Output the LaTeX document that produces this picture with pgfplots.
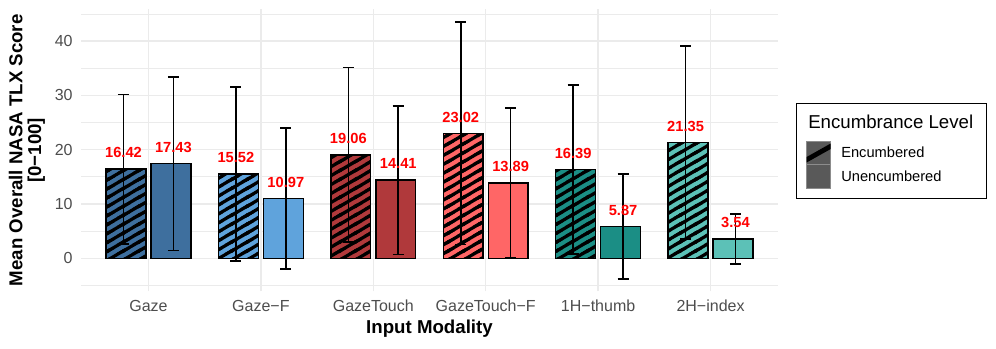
\documentclass[border=0pt]{standalone}
\usepackage{pgfplots}
\pgfplotsset{compat=1.18}
\usepackage{pgfplotstable}
\usepackage{fontspec}
\setmainfont{Liberation Sans}
\usetikzlibrary{patterns}

\definecolor{cGaze}{HTML}{3E6F9E}
\definecolor{cGazeF}{HTML}{5FA3DC}
\definecolor{cGT}{HTML}{B0393B}
\definecolor{cGTF}{HTML}{FF6666}
\definecolor{cHa}{HTML}{1B8E85}
\definecolor{cHb}{HTML}{5CC1B7}
\definecolor{gridc}{HTML}{EBEBEB}
\definecolor{tickc}{HTML}{4D4D4D}
\definecolor{keyc}{HTML}{595959}

% 30-degree stripes, vertical period 6.7pt
\pgfdeclarepatternformonly{hatchthirty}{\pgfqpoint{-1pt}{-1pt}}{\pgfqpoint{12.6pt}{7.7pt}}{\pgfqpoint{11.6pt}{6.7pt}}{%
  \pgfsetlinewidth{2.4pt}%
  \pgfpathmoveto{\pgfqpoint{-2pt}{-1.155pt}}\pgfpathlineto{\pgfqpoint{13.6pt}{7.855pt}}%
  \pgfpathmoveto{\pgfqpoint{-2pt}{5.545pt}}\pgfpathlineto{\pgfqpoint{13.6pt}{14.555pt}}%
  \pgfpathmoveto{\pgfqpoint{-2pt}{-7.855pt}}\pgfpathlineto{\pgfqpoint{13.6pt}{1.155pt}}%
  \pgfusepath{stroke}%
}

\pgfplotstableread{
x y lab
0.778 16.42 16.42
1.222 17.43 17.43
1.778 15.52 15.52
2.222 10.97 10.97
2.778 19.06 19.06
3.222 14.41 14.41
3.778 23.02 23.02
4.222 13.89 13.89
4.778 16.39 16.39
5.222 5.87 5.87
5.778 21.35 21.35
6.222 3.54 3.54
}\labtab

\tikzset{hatch/.style={postaction={pattern=hatchthirty, pattern color=black}}}
\pgfplotsset{mybar/.style={ybar, bar width=0.355, bar shift=0pt, draw=black, line width=1.1pt}}

\begin{document}
\begin{tikzpicture}
\path[use as bounding box] (-60.75pt,-43.2pt) rectangle (686.25pt,218.55pt);
\begin{axis}[
  at={(0,0)}, anchor=south west,
  scale only axis, width=522.75pt, height=211.7pt,
  xmin=0.4, xmax=6.6, ymin=-6.1, ymax=45.9,
  axis line style={draw=none},
  major tick length=0pt, minor tick length=0pt,
  xtick={1,2,3,4,5,6},
  xticklabels={Gaze,Gaze−F,GazeTouch,GazeTouch−F,1H−thumb,2H−index},
  ytick={0,10,20,30,40},
  minor ytick={-5,5,15,25,35,45},
  xmajorgrids, ymajorgrids, yminorgrids,
  major grid style={gridc, line width=1.1pt},
  minor grid style={gridc, line width=0.55pt},
  tick label style={font=\fontsize{12}{14}\selectfont, text=tickc},
  /pgf/number format/assume math mode=true,
  yticklabel style={xshift=-2.75pt},
  xticklabel style={anchor=north, yshift=-3.2pt},
  xlabel={Input Modality},
  ylabel={Mean Overall NASA TLX Score\\{[}0−100{]}},
  xlabel style={at={(axis description cs:0.5,-0.1308)}, anchor=center, font=\bfseries\fontsize{14}{16}\selectfont},
  ylabel style={at={(axis description cs:-0.0775,0.5)}, anchor=center, align=center, font=\bfseries\fontsize{14}{14}\selectfont},
  clip=false,
  unbounded coords=jump,
]
\addplot[mybar, fill=cGaze, hatch] coordinates {(0.8,16.42)};
\addplot[mybar, fill=cGaze] coordinates {(1.2,17.43)};
\addplot[mybar, fill=cGazeF, hatch] coordinates {(1.8,15.52)};
\addplot[mybar, fill=cGazeF] coordinates {(2.2,10.97)};
\addplot[mybar, fill=cGT, hatch] coordinates {(2.8,19.06)};
\addplot[mybar, fill=cGT] coordinates {(3.2,14.41)};
\addplot[mybar, fill=cGTF, hatch] coordinates {(3.8,23.02)};
\addplot[mybar, fill=cGTF] coordinates {(4.2,13.89)};
\addplot[mybar, fill=cHa, hatch] coordinates {(4.8,16.39)};
\addplot[mybar, fill=cHa] coordinates {(5.2,5.87)};
\addplot[mybar, fill=cHb, hatch] coordinates {(5.8,21.35)};
\addplot[mybar, fill=cHb] coordinates {(6.2,3.54)};

% error bars (mean +- sd): vertical stems
\addplot[black, line width=1.2pt, mark=none] coordinates {
(0.778,2.67) (0.778,30.17) (0.778,nan)
(1.222,1.43) (1.222,33.43) (1.222,nan)
(1.778,-0.53) (1.778,31.57) (1.778,nan)
(2.222,-2.01) (2.222,23.95) (2.222,nan)
(2.778,2.96) (2.778,35.16) (2.778,nan)
(3.222,0.71) (3.222,28.11) (3.222,nan)
(3.778,2.52) (3.778,43.52) (3.778,nan)
(4.222,0.09) (4.222,27.69) (4.222,nan)
(4.778,0.84) (4.778,31.94) (4.778,nan)
(5.222,-3.77) (5.222,15.51) (5.222,nan)
(5.778,3.55) (5.778,39.15) (5.778,nan)
(6.222,-1.06) (6.222,8.14)
};
% caps
\addplot[black, line width=1.2pt, mark=none] coordinates {
(0.729,2.67) (0.827,2.67) (0.8,nan) (0.729,30.17) (0.827,30.17) (0.8,nan)
(1.173,1.43) (1.271,1.43) (1.2,nan) (1.173,33.43) (1.271,33.43) (1.2,nan)
(1.729,-0.53) (1.827,-0.53) (1.8,nan) (1.729,31.57) (1.827,31.57) (1.8,nan)
(2.173,-2.01) (2.271,-2.01) (2.2,nan) (2.173,23.95) (2.271,23.95) (2.2,nan)
(2.729,2.96) (2.827,2.96) (2.8,nan) (2.729,35.16) (2.827,35.16) (2.8,nan)
(3.173,0.71) (3.271,0.71) (3.2,nan) (3.173,28.11) (3.271,28.11) (3.2,nan)
(3.729,2.52) (3.827,2.52) (3.8,nan) (3.729,43.52) (3.827,43.52) (3.8,nan)
(4.173,0.09) (4.271,0.09) (4.2,nan) (4.173,27.69) (4.271,27.69) (4.2,nan)
(4.729,0.84) (4.827,0.84) (4.8,nan) (4.729,31.94) (4.827,31.94) (4.8,nan)
(5.173,-3.77) (5.271,-3.77) (5.2,nan) (5.173,15.51) (5.271,15.51) (5.2,nan)
(5.729,3.55) (5.827,3.55) (5.8,nan) (5.729,39.15) (5.827,39.15) (5.8,nan)
(6.173,-1.06) (6.271,-1.06) (6.2,nan) (6.173,8.14) (6.271,8.14)
};

\addplot[draw=none, mark=none, point meta=explicit symbolic, nodes near coords,
  every node near coord/.append style={anchor=center, yshift=12.2pt, text=red, font=\bfseries\fontsize{11}{13}\selectfont}]
  table[x=x, y=y, meta=lab]{\labtab};
\end{axis}
\begin{scope}[shift={(-60.75pt,218.55pt)}, x=0.75pt, y=-0.75pt]
\draw[line width=1pt, black] (796.7,103.3) rectangle (986.7,198.3);
\node[anchor=west, inner sep=0pt, font=\fontsize{14}{16}\selectfont] at (808,122) {Encumbrance Level};
\filldraw[fill=keyc, draw=black!45, line width=0.5pt] (806.7,141) rectangle (830.7,164.3);
\begin{scope}
\clip (806.7,141) rectangle (830.7,164.3);
\draw[line width=3.6pt, black] (803,161.8) -- (834,144.4);
\end{scope}
\filldraw[fill=keyc, draw=black!45, line width=0.5pt] (806.7,164.3) rectangle (830.7,188.3);
\node[anchor=west, inner sep=0pt, font=\fontsize{11}{13}\selectfont] at (841,152.7) {Encumbered};
\node[anchor=west, inner sep=0pt, font=\fontsize{11}{13}\selectfont] at (841,176.7) {Unencumbered};
\end{scope}
\end{tikzpicture}
\end{document}
